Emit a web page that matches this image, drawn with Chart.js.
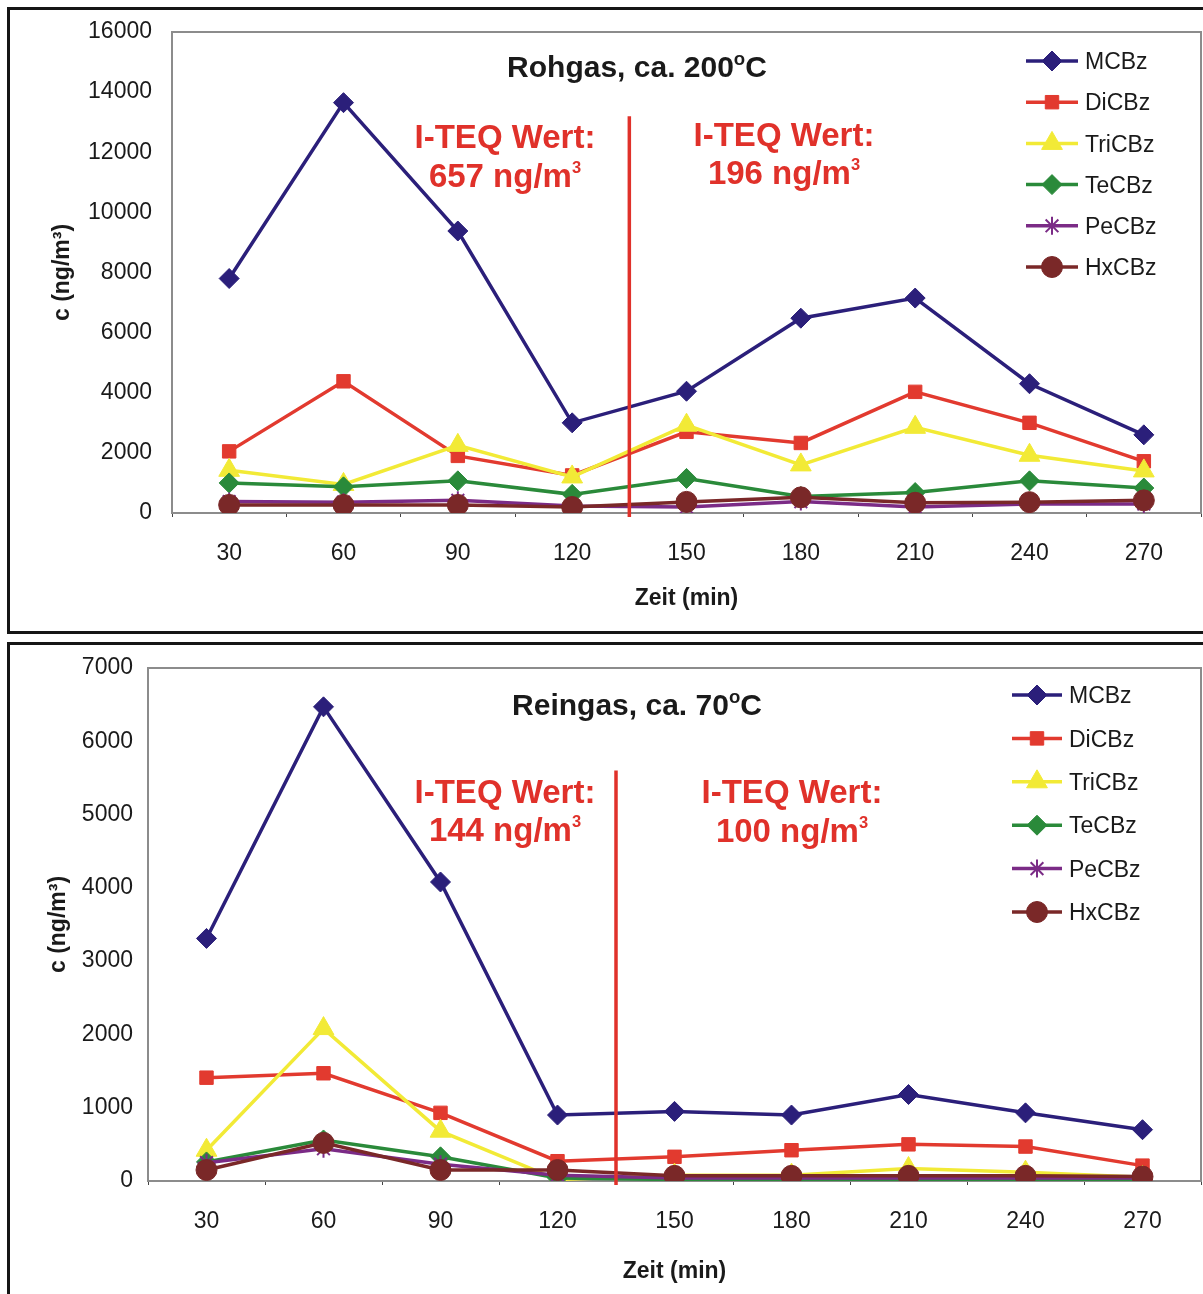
<!DOCTYPE html>
<html>
<head>
<meta charset="utf-8">
<script src="https://cdn.jsdelivr.net/npm/chart.js@4.4.1/dist/chart.umd.min.js"></script>
<style>
  html, body { margin: 0; padding: 0; background: #fff; overflow: hidden; width: 1203px; height: 1294px; }
  .box { position: absolute; left: 0; width: 1203px; }
  .frame { position: absolute; left: 7px; width: 1250px; border: 3px solid #151515; box-sizing: border-box; pointer-events: none; }
</style>
</head>
<body>
<div class="box" style="top:0;height:640px"><canvas id="rohgas"></canvas></div>
<div class="box" style="top:640px;height:654px"><canvas id="reingas"></canvas></div>
<div class="frame" style="top:7px;height:627px"></div>
<div class="frame" style="top:642px;height:700px"></div>
<script>
// time points (min)
const minutes = ['30', '60', '90', '120', '150', '180', '210', '240', '270'];
const seriesNames = ['MCBz', 'DiCBz', 'TriCBz', 'TeCBz', 'PeCBz', 'HxCBz'];

// Rohgas, ca. 200 °C  (ng/m3)
const rohMCBz  = [7800, 13650, 9380, 3000, 4050, 6480, 7150, 4300, 2600];
const rohDiCBz = [2050, 4380, 1900, 1250, 2700, 2330, 4030, 3000, 1720];
const rohTriCBz = [1420, 950, 2250, 1200, 2920, 1600, 2850, 1920, 1400];
const rohTeCBz = [1000, 870, 1070, 620, 1150, 550, 680, 1070, 830];
const rohPeCBz = [380, 360, 420, 230, 200, 380, 200, 300, 300];
const rohHxCBz = [270, 270, 270, 200, 370, 520, 340, 360, 420];

// Reingas, ca. 70 °C  (ng/m3)
const reinMCBz  = [3310, 6470, 4080, 900, 950, 900, 1180, 930, 700];
const reinDiCBz = [1410, 1470, 930, 270, 330, 420, 500, 470, 210];
const reinTriCBz = [420, 2080, 680, 20, 80, 80, 170, 120, 50];
const reinTeCBz = [260, 560, 330, 40, 20, 20, 20, 20, 20];
const reinPeCBz = [250, 440, 230, 80, 40, 40, 40, 40, 40];
const reinHxCBz = [150, 520, 150, 150, 70, 70, 70, 70, 60];

// y tick values
const rohTicks = [0, 2000, 4000, 6000, 8000, 10000, 12000, 14000, 16000];
const reinTicks = [0, 1000, 2000, 3000, 4000, 5000, 6000, 7000];

const FONT = '"Liberation Sans", Arial, Helvetica, sans-serif';
const RED = '#e0312a';
const TEXT = '#1a1a1a';

const styles = [
  { color: '#2b1f7a', pointStyle: 'rectRot', radius: 10, bw: 1 },
  { color: '#e23a2f', pointStyle: 'rect', radius: 9.5, bw: 1 },
  { color: '#f2ea36', pointStyle: 'triangle', radius: 12, bw: 1 },
  { color: '#2a8a3a', pointStyle: 'rectRot', radius: 10, bw: 1 },
  { color: '#7b2b86', pointStyle: 'star', radius: 9, bw: 2 },
  { color: '#7a2828', pointStyle: 'circle', radius: 10.5, bw: 1 }
];

function makeDatasets(values) {
  return values.map((data, i) => ({
    label: seriesNames[i],
    data: data,
    borderColor: styles[i].color,
    backgroundColor: styles[i].color,
    borderWidth: 3.5,
    pointStyle: styles[i].pointStyle,
    pointRadius: styles[i].radius,
    pointBackgroundColor: styles[i].color,
    pointBorderColor: styles[i].color,
    pointBorderWidth: styles[i].bw,
    tension: 0,
    order: values.length - i
  }));
}

// text with superscript parts, centred on cx, cap-centre on cy
function drawRich(ctx, parts, cx, cy, size, bold, color, supScale, supRise) {
  const w = bold ? 'bold ' : '';
  let total = 0;
  parts.forEach(p => {
    ctx.font = w + (p.sup ? size * supScale : size) + 'px ' + FONT;
    p.w = ctx.measureText(p.t).width;
    total += p.w;
  });
  let x = cx - total / 2;
  const base = cy + size * 0.358;
  ctx.fillStyle = color;
  ctx.textAlign = 'left';
  ctx.textBaseline = 'alphabetic';
  parts.forEach(p => {
    ctx.font = w + (p.sup ? size * supScale : size) + 'px ' + FONT;
    ctx.fillText(p.t, x, p.sup ? base - size * supRise : base);
    x += p.w;
  });
}

const panelPlugin = {
  id: 'panel',
  beforeDatasetsDraw(chart) {
    const { ctx, chartArea: a } = chart;
    ctx.save();
    ctx.strokeStyle = '#8c8c8c';
    ctx.lineWidth = 2;
    ctx.strokeRect(a.left, a.top, a.right - a.left, a.bottom - a.top);
    ctx.restore();
  },
  afterDatasetsDraw(chart, args, opts) {
    const { ctx, chartArea: a, scales: { x, y } } = chart;
    ctx.save();
    // divider between the two periods
    const px = x.getPixelForValue(opts.dividerAt);
    ctx.strokeStyle = RED;
    ctx.lineWidth = 3.5;
    ctx.beginPath();
    ctx.moveTo(px, y.getPixelForValue(opts.dividerTop));
    ctx.lineTo(px, a.bottom + 4);
    ctx.stroke();

    // title
    drawRich(ctx, opts.title, opts.titleX, opts.titleY, 30, true, TEXT, 0.62, 0.40);

    // I-TEQ notes
    opts.notes.forEach(n => {
      drawRich(ctx, [{ t: 'I-TEQ Wert:' }], n.x, n.y1, 33, true, RED);
      drawRich(ctx, [{ t: n.value + ' ng/m' }, { t: '3', sup: true }], n.x, n.y2, 33, true, RED, 0.5, 0.42);
    });

    // legend
    const L = opts.legend;
    chart.data.datasets.forEach((ds, i) => {
      const ly = L.y + i * L.step;
      ctx.strokeStyle = ds.borderColor;
      ctx.lineWidth = 3.5;
      ctx.beginPath();
      ctx.moveTo(L.x1, ly);
      ctx.lineTo(L.x2, ly);
      ctx.stroke();
      ctx.fillStyle = ds.pointBackgroundColor;
      ctx.strokeStyle = ds.pointBorderColor;
      ctx.lineWidth = ds.pointBorderWidth;
      Chart.helpers.drawPoint(ctx, {
        pointStyle: ds.pointStyle, radius: ds.pointRadius, borderWidth: ds.pointBorderWidth, rotation: 0
      }, (L.x1 + L.x2) / 2, ly);
      ctx.fillStyle = TEXT;
      ctx.font = '23px ' + FONT;
      ctx.textAlign = 'left';
      ctx.textBaseline = 'alphabetic';
      ctx.fillText(ds.label, L.tx, ly + 8.2);
    });
    ctx.restore();
  }
};

function makeChart(id, values, ticks, cfg) {
  return new Chart(document.getElementById(id), {
    type: 'line',
    data: { labels: minutes, datasets: makeDatasets(values) },
    plugins: [panelPlugin],
    options: {
      responsive: true,
      maintainAspectRatio: false,
      animation: false,
      layout: { autoPadding: false, padding: { left: 0, top: cfg.padTop, right: 2, bottom: 0 } },
      plugins: {
        legend: { display: false },
        tooltip: { enabled: false },
        panel: cfg.panel
      },
      scales: {
        x: {
          type: 'category',
          offset: true,
          grid: { display: true, drawOnChartArea: false, offset: true, tickLength: 4, tickColor: '#444', lineWidth: 1 },
          border: { color: '#8c8c8c', width: 2 },
          ticks: { color: TEXT, font: { size: 23 }, padding: 23, maxRotation: 0 },
          title: { display: true, text: 'Zeit (min)', color: TEXT, font: { size: 23, weight: 'bold' }, padding: { bottom: cfg.xTitlePad } },
          afterFit(scale) {
            scale.height = cfg.xHeight;
            scale.paddingLeft = 0;
            scale.paddingRight = 0;
          }
        },
        y: {
          min: ticks[0],
          max: ticks[ticks.length - 1],
          afterBuildTicks(scale) { scale.ticks = ticks.map(v => ({ value: v })); },
          grid: { display: true, drawOnChartArea: false, tickLength: 8, tickColor: 'rgba(0,0,0,0)' },
          border: { color: '#8c8c8c', width: 2 },
          ticks: { color: TEXT, font: { size: 23 }, padding: cfg.yTickPad, callback: v => String(v) },
          title: { display: true, text: 'c (ng/m³)', color: TEXT, font: { size: 23, weight: 'bold' }, padding: { top: cfg.yTitlePad } },
          afterFit(scale) {
            scale.width = cfg.yWidth;
            scale.paddingTop = 0;
            scale.paddingBottom = 0;
          }
        }
      }
    }
  });
}

Chart.defaults.font.family = FONT;

makeChart('rohgas',
  [rohMCBz, rohDiCBz, rohTriCBz, rohTeCBz, rohPeCBz, rohHxCBz],
  rohTicks,
  {
    padTop: 32, xHeight: 127, yWidth: 172, yTickPad: 12, yTitlePad: 49, xTitlePad: 28,
    panel: {
      dividerAt: 3.5, dividerTop: 13200,
      title: [{ t: 'Rohgas, ca. 200' }, { t: 'o', sup: true }, { t: 'C' }],
      titleX: 637, titleY: 66,
      notes: [
        { x: 505, y1: 136, y2: 175, value: '657' },
        { x: 784, y1: 134, y2: 172, value: '196' }
      ],
      legend: { x1: 1026, x2: 1078, tx: 1085, y: 61, step: 41.2 }
    }
  });

makeChart('reingas',
  [reinMCBz, reinDiCBz, reinTriCBz, reinTeCBz, reinPeCBz, reinHxCBz],
  reinTicks,
  {
    padTop: 28, xHeight: 113, yWidth: 148, yTickPad: 7, yTitlePad: 45, xTitlePad: 9,
    panel: {
      dividerAt: 3.5, dividerTop: 5600,
      title: [{ t: 'Reingas, ca. 70' }, { t: 'o', sup: true }, { t: 'C' }],
      titleX: 637, titleY: 64,
      notes: [
        { x: 505, y1: 151, y2: 189, value: '144' },
        { x: 792, y1: 151, y2: 190, value: '100' }
      ],
      legend: { x1: 1012, x2: 1062, tx: 1069, y: 55, step: 43.4 }
    }
  });
</script>
</body>
</html>
